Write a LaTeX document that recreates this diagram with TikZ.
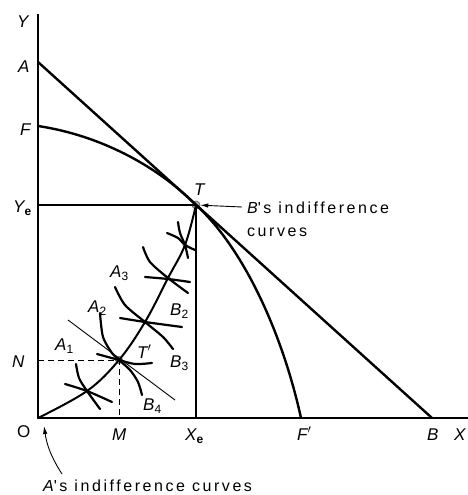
\documentclass[tikz,border=0pt]{standalone}
\usepackage{fontspec}
\setmainfont{Liberation Sans}
\newfontfamily\lsfont[LetterSpace=16]{Liberation Sans}
\usetikzlibrary{arrows.meta}
\newcommand{\mysb}[1]{\raisebox{-0.35ex}{\upshape\fontsize{12}{13}\selectfont #1}}
\begin{document}
\begin{tikzpicture}[x=1pt,y=-1pt,
  axis/.style={line width=1.4pt},
  heavy/.style={line width=2.4pt},
  contract/.style={line width=2pt},
  icurve/.style={line width=2.2pt, line cap=round},
  guide/.style={line width=1.1pt},
  thinl/.style={line width=0.9pt},
  dashl/.style={line width=1pt, dash pattern=on 6pt off 4pt},
  lbl/.style={font=\itshape\fontsize{17}{19}\selectfont, inner sep=0pt, anchor=base west},
  txt/.style={font=\lsfont\fontsize{16}{23}\selectfont, inner sep=0pt, align=left},
  arr/.style={line width=0.9pt, -{Latex[length=8pt,width=4.5pt]}},
  bigdot/.style={circle, inner sep=0pt, minimum size=8pt, fill=gray!55, draw=black!70, line width=0.6pt},
  smdot/.style={circle, inner sep=0pt, minimum size=5pt, fill=gray!60, draw=none}]
\useasboundingbox (0,0) rectangle (467,495);

% key points
\coordinate (O) at (38,418);
\coordinate (ytop) at (38,14);
\coordinate (xend) at (470,418);
\coordinate (Apt) at (38,62);
\coordinate (Bpt) at (432,418);
\coordinate (Fpt) at (38,126);
\coordinate (Fp) at (301,418);
\coordinate (Ye) at (38,205);
\coordinate (Xe) at (196,418);
\coordinate (Npt) at (38,360);
\coordinate (Mpt) at (119,418);
\node[bigdot] (T) at (196,205) {};
\node[bigdot, minimum size=7pt] (Tp) at (119,360) {};
\node[smdot] (c1) at (87,391) {};
\node[smdot] (c3) at (145,322) {};
\node[smdot] (c4) at (168,278) {};
\node[smdot] (c5) at (185,245) {};

% axes
\draw[axis] (ytop) -- (O) -- (xend);

% budget line and transformation curve
\draw[heavy] (Apt) -- (Bpt);
\draw[heavy] (Fpt) .. controls (98,135) and (155.5,164.3) .. (T.center)
              .. controls (241,245.7) and (281.2,328) .. (Fp);

% guide lines
\draw[guide] (Ye) -- (T.center) -- (Xe);
\draw[dashl] (Npt) -- (Tp.center) -- (Mpt);

% contract curve
\draw[contract] plot[smooth, tension=0.6] coordinates
  {(38,418) (87,391) (119,360) (145,322) (168,278) (185,245) (196,205)};

% tangent through T'
\draw[thinl] (68,320) -- (175,400);

% indifference curves
\draw[icurve] plot[smooth] coordinates {(76,364) (79,378) (87,391) (100,409)};
\draw[icurve] plot[smooth] coordinates {(65,384) (87,391) (112,402)};
\draw[icurve] plot[smooth] coordinates {(100,313) (103,337) (112,353) (119,360) (130,370) (138,382) (142,395)};
\draw[icurve] plot[smooth] coordinates {(97,354) (119,360) (135,364) (152,363)};
\draw[icurve] plot[smooth] coordinates {(115,287) (125,305) (145,322) (163,337) (173,349)};
\draw[icurve] plot[smooth] coordinates {(120,318) (145,322) (182,327)};
\draw[icurve] plot[smooth] coordinates {(143,247) (150,262) (168,278) (188,293)};
\draw[icurve] plot[smooth] coordinates {(145,277) (168,279) (190,282)};
\draw[icurve] plot[smooth] coordinates {(178,222) (180,233) (185,245) (188,258)};
\draw[icurve] plot[smooth] coordinates {(167,233) (178,238) (185,245) (195,250)};

% labels
\node[lbl] (lY) at (17,28) {Y};
\node[lbl] (lA) at (18,72) {A};
\node[lbl] (lF) at (20,135) {F};
\node[lbl] (lYe) at (13,212) {Y\mysb{\textbf{e}}};
\node[lbl] (lN) at (12,367) {N};
\node[lbl] (lO) at (17,437) {\upshape O};
\node[lbl] (lM) at (112,440) {M};
\node[lbl] (lXe) at (185,440) {X\mysb{\textbf{e}}};
\node[lbl] (lFp) at (297,440) {F$'$};
\node[lbl] (lB) at (427,440) {B};
\node[lbl] (lX) at (454,440) {X};
\node[lbl] (lT) at (194,195) {T};
\node[lbl] (lTp) at (137,358) {T$'$};
\node[lbl] (lA1) at (55,350) {A\mysb{1}};
\node[lbl] (lA2) at (88,312) {A\mysb{2}};
\node[lbl] (lA3) at (110,277) {A\mysb{3}};
\node[lbl] (lB2) at (170,315) {B\mysb{2}};
\node[lbl] (lB3) at (170,367) {B\mysb{3}};
\node[lbl] (lB4) at (143,410) {B\mysb{4}};

% annotations
\node[txt, anchor=north west] (btxt) at (247,202) {\itshape B\upshape's indifference\\curves};
\coordinate (bstart) at (242,207);
\draw[arr] (bstart) -- (T);
\node[txt, anchor=base west] (atxt) at (43,491) {\itshape A\upshape's indifference curves};
\coordinate (astart) at (62,474);
\coordinate (aend) at (44,426);
\draw[arr] (astart) to[bend left=12] (aend);
\end{tikzpicture}
\end{document}
